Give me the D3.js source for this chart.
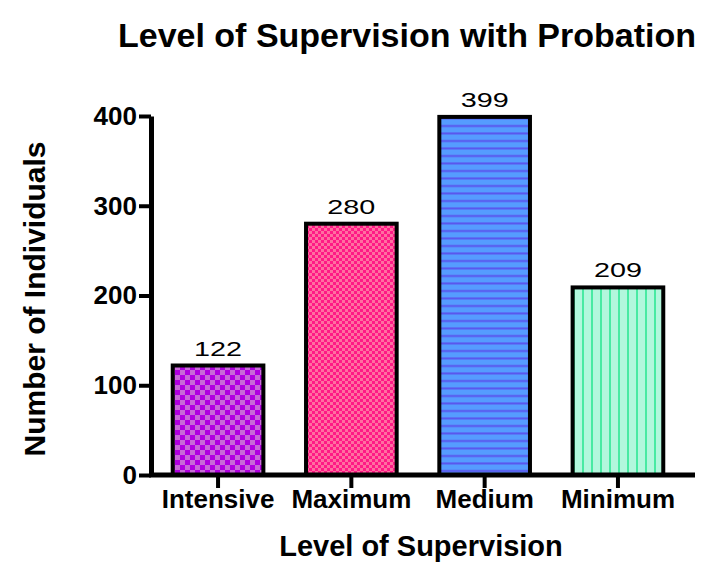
<!DOCTYPE html>
<html>
<head>
<meta charset="utf-8">
<style>
  body { margin: 0; background: #fff; }
  text { font-family: "Liberation Sans", Arial, sans-serif; }
</style>
<script src="https://d3js.org/d3.v7.min.js"></script>
</head>
<body>
<script>
// data
const categories = ["Intensive", "Maximum", "Medium", "Minimum"];
const counts = [122, 280, 399, 209];
const yTicks = [0, 100, 200, 300, 400];

const width = 717, height = 564;
const svg = d3.select("body").append("svg")
    .attr("width", width)
    .attr("height", height);

const defs = svg.append("defs");

// checker pattern for Intensive
let p = defs.append("pattern").attr("id", "pat0").attr("patternUnits", "userSpaceOnUse")
    .attr("width", 10).attr("height", 10);
p.append("rect").attr("width", 10).attr("height", 10).attr("fill", "#b000e0");
p.append("rect").attr("width", 5).attr("height", 5).attr("fill", "#c86ad8");
p.append("rect").attr("x", 5).attr("y", 5).attr("width", 5).attr("height", 5).attr("fill", "#c86ad8");

// small checker for Maximum
p = defs.append("pattern").attr("id", "pat1").attr("patternUnits", "userSpaceOnUse")
    .attr("width", 6).attr("height", 6);
p.append("rect").attr("width", 6).attr("height", 6).attr("fill", "#ff1a86");
p.append("rect").attr("width", 3).attr("height", 3).attr("fill", "#ff6fa0");
p.append("rect").attr("x", 3).attr("y", 3).attr("width", 3).attr("height", 3).attr("fill", "#ff6fa0");

// horizontal lines for Medium
p = defs.append("pattern").attr("id", "pat2").attr("patternUnits", "userSpaceOnUse")
    .attr("width", 8).attr("height", 7.5);
p.append("rect").attr("width", 8).attr("height", 7.5).attr("fill", "#559cff");
p.append("rect").attr("y", 5).attr("width", 8).attr("height", 2).attr("fill", "#5a55ee");

// vertical lines for Minimum
p = defs.append("pattern").attr("id", "pat3").attr("patternUnits", "userSpaceOnUse")
    .attr("width", 9).attr("height", 8);
p.append("rect").attr("width", 9).attr("height", 8).attr("fill", "#b2f7dc");
p.append("rect").attr("x", 6).attr("width", 2).attr("height", 8).attr("fill", "#48eaa2");

const x = d3.scaleBand()
    .domain(categories)
    .range([151, 685])
    .paddingInner(0.32)
    .paddingOuter(0.163);

const y = d3.scaleLinear()
    .domain([0, 400])
    .range([475, 116]);

// bars
svg.selectAll(".bar")
    .data(categories)
    .join("rect")
    .attr("class", "bar")
    .attr("x", d => x(d))
    .attr("y", (d, i) => y(counts[i]))
    .attr("width", x.bandwidth())
    .attr("height", (d, i) => y(0) - y(counts[i]))
    .attr("fill", (d, i) => "url(#pat" + i + ")")
    .attr("stroke", "#000")
    .attr("stroke-width", 4);

// value labels (wide digits, as in the original)
svg.selectAll(".val")
    .data(categories)
    .join("text")
    .attr("class", "val")
    .attr("x", d => x(d) + x.bandwidth() / 2)
    .attr("y", (d, i) => y(counts[i]) - 10)
    .attr("text-anchor", "middle")
    .attr("font-size", 21)
    .attr("textLength", 48)
    .attr("lengthAdjust", "spacingAndGlyphs")
    .text((d, i) => counts[i]);

// y axis
const yAxis = svg.append("g")
    .attr("transform", "translate(151,0)")
    .call(d3.axisLeft(y).tickValues(yTicks).tickSize(12).tickSizeOuter(0).tickPadding(2));
yAxis.select(".domain").attr("stroke-width", 5);
yAxis.selectAll(".tick line").attr("stroke-width", 4);
yAxis.selectAll(".tick text")
    .attr("font-size", 26).attr("font-weight", "bold").attr("fill", "#000")
    .attr("font-family", "'Liberation Sans', Arial, sans-serif");

// x axis
const xAxis = svg.append("g")
    .attr("transform", "translate(0,475)")
    .call(d3.axisBottom(x).tickSize(13).tickSizeOuter(0).tickPadding(2));
xAxis.select(".domain").remove();
xAxis.append("line")
    .attr("x1", 149).attr("x2", 695)
    .attr("stroke", "#000").attr("stroke-width", 5);
xAxis.selectAll(".tick line").attr("stroke-width", 4);
xAxis.selectAll(".tick text")
    .attr("font-size", 26).attr("font-weight", "bold").attr("fill", "#000")
    .attr("font-family", "'Liberation Sans', Arial, sans-serif");

// titles
svg.append("text")
    .attr("x", 407).attr("y", 47)
    .attr("text-anchor", "middle")
    .attr("font-size", 34).attr("font-weight", "bold")
    .text("Level of Supervision with Probation");

svg.append("text")
    .attr("x", 421).attr("y", 556)
    .attr("text-anchor", "middle")
    .attr("font-size", 29).attr("font-weight", "bold")
    .text("Level of Supervision");

svg.append("text")
    .attr("transform", "translate(45,299) rotate(-90)")
    .attr("text-anchor", "middle")
    .attr("font-size", 30).attr("font-weight", "bold")
    .text("Number of Individuals");
</script>
</body>
</html>
